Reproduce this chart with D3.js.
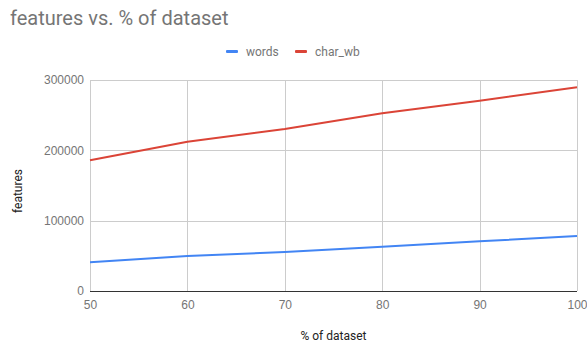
<!DOCTYPE html>
<html>
<head>
<meta charset="utf-8">
<script src="https://cdn.jsdelivr.net/npm/d3@7"></script>
<style>
  body { margin: 0; background: #fff; }
  svg { font-family: Roboto, "Noto Sans", sans-serif; }
  .grid line { stroke: #cccccc; stroke-width: 1; }
  .tick text { fill: #757575; font-size: 12px; }
</style>
</head>
<body>
<div id="chart"></div>
<script>
// data
var percents = [50, 60, 70, 80, 90, 100];
var words = [40800, 49800, 55500, 63000, 70600, 78200];
var charWb = [186000, 212300, 230300, 252600, 270500, 289600];
var yTicks = [0, 100000, 200000, 300000];
var seriesNames = ["words", "char_wb"];
var seriesColors = ["#4285f4", "#db4437"];

var totalWidth = 587, totalHeight = 342;
var margin = {left: 90, right: 10, top: 80, bottom: 51};

var svg = d3.select("#chart").append("svg")
    .attr("width", totalWidth)
    .attr("height", totalHeight);

var xScale = d3.scaleLinear()
    .domain([50, 100])
    .range([margin.left, totalWidth - margin.right]);

var yScale = d3.scaleLinear()
    .domain([0, 300000])
    .range([totalHeight - margin.bottom, margin.top]);

// title
svg.append("text")
    .attr("x", 10)
    .attr("y", 25)
    .attr("fill", "#757575")
    .style("font-size", "20px")
    .text("features vs. % of dataset");

// gridlines
svg.append("g")
    .attr("class", "grid")
    .selectAll("line.h")
    .data(yTicks).enter().append("line")
    .attr("x1", xScale(50)).attr("x2", xScale(100))
    .attr("y1", function(d) { return Math.round(yScale(d)) + 0.5; })
    .attr("y2", function(d) { return Math.round(yScale(d)) + 0.5; });

svg.append("g")
    .attr("class", "grid")
    .selectAll("line.v")
    .data(percents).enter().append("line")
    .attr("x1", function(d) { return Math.round(xScale(d)) + 0.5; })
    .attr("x2", function(d) { return Math.round(xScale(d)) + 0.5; })
    .attr("y1", yScale(300000)).attr("y2", yScale(0));

// y axis labels
var yAxis = d3.axisLeft(yScale).tickValues(yTicks).tickSize(0).tickPadding(6).tickFormat(d3.format("d"));
var gy = svg.append("g")
    .attr("transform", "translate(" + [margin.left, 0] + ")")
    .call(yAxis);
gy.select(".domain").remove();

// x axis labels
var xAxis = d3.axisBottom(xScale).tickValues(percents).tickSize(0).tickPadding(9);
var gx = svg.append("g")
    .attr("transform", "translate(" + [0, yScale(0)] + ")")
    .call(xAxis);
gx.select(".domain").remove();

// baseline
svg.append("line")
    .attr("x1", xScale(50)).attr("x2", xScale(100))
    .attr("y1", Math.round(yScale(0)) + 0.5).attr("y2", Math.round(yScale(0)) + 0.5)
    .attr("stroke", "#333333")
    .attr("stroke-width", 1.2);

// axis titles
svg.append("text")
    .attr("text-anchor", "middle")
    .attr("x", (xScale(50) + xScale(100)) / 2)
    .attr("y", 340)
    .attr("fill", "#222")
    .style("font-size", "12px")
    .text("% of dataset");

svg.append("text")
    .attr("text-anchor", "middle")
    .attr("transform", "translate(" + [22, 191] + ") rotate(-90)")
    .attr("fill", "#222")
    .style("font-size", "12px")
    .text("features");

// lines
var line = d3.line()
    .x(function(d) { return xScale(d.x); })
    .y(function(d) { return yScale(d.y); });

[words, charWb].forEach(function(values, i) {
    var dataset = percents.map(function(p, j) { return {x: p, y: values[j]}; });
    svg.append("path")
        .datum(dataset)
        .attr("fill", "none")
        .attr("stroke", seriesColors[i])
        .attr("stroke-width", 2)
        .attr("d", line);
});

// legend
var legendX = [226, 295];
seriesNames.forEach(function(name, i) {
    svg.append("rect")
        .attr("x", legendX[i]).attr("y", 50)
        .attr("width", 12).attr("height", 3)
        .attr("rx", 1)
        .attr("fill", seriesColors[i]);
    svg.append("text")
        .attr("x", legendX[i] + 20).attr("y", 56)
        .attr("fill", "#757575")
        .style("font-size", "12px")
        .text(name);
});
</script>
</body>
</html>
